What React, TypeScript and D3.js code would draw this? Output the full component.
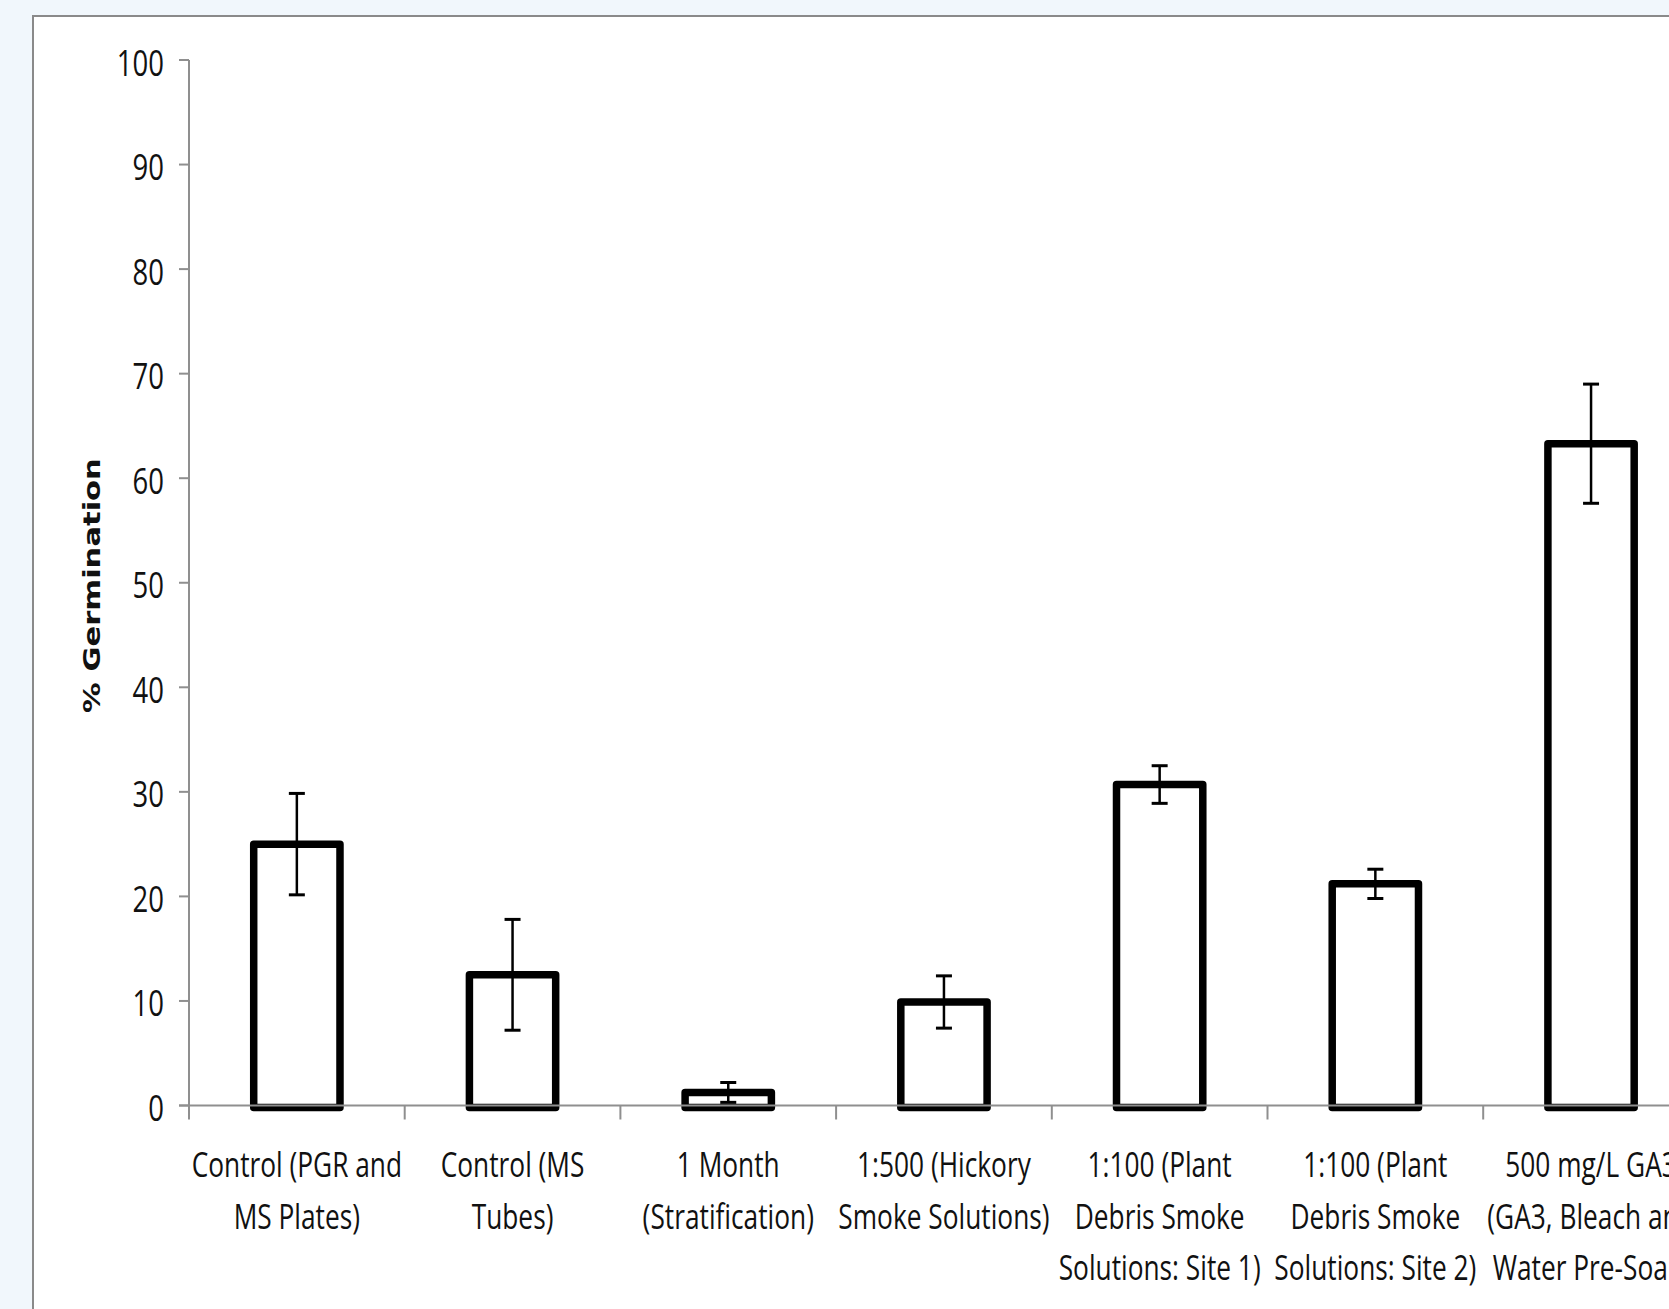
import React, { useEffect, useRef } from 'react';
import * as d3 from 'd3';

// Treatments on the x axis (label lines as they wrap in the chart)
const categories = ['c1', 'c2', 'c3', 'c4', 'c5', 'c6', 'c7'];
const labelLines = [
  ['Control (PGR and', 'MS Plates)'],
  ['Control (MS', 'Tubes)'],
  ['1 Month', '(Stratification)'],
  ['1:500 (Hickory', 'Smoke Solutions)'],
  ['1:100 (Plant', 'Debris Smoke', 'Solutions: Site 1)'],
  ['1:100 (Plant', 'Debris Smoke', 'Solutions: Site 2)'],
  ['500 mg/L GA3', '(GA3, Bleach and', 'Water Pre-Soak)'],
];
const germination = [25.0, 12.5, 1.25, 9.9, 30.7, 21.2, 63.3];
const errors = [4.85, 5.3, 0.95, 2.5, 1.8, 1.4, 5.7];
const yTicks = [0, 10, 20, 30, 40, 50, 60, 70, 80, 90, 100];

const W = 1669;
const H = 1309;

function App() {
  const ref = useRef<SVGSVGElement>(null);

  useEffect(() => {
    document.body.style.margin = '0';
    const svg = d3.select(ref.current);
    svg.selectAll('*').remove();

    const textColor = '#111';
    const axisColor = '#8f8f8f';
    const stretch = 1.32; // text in the picture is drawn tall and narrow

    // page background and chart frame
    svg.append('rect').attr('width', W).attr('height', H).attr('fill', '#f1f7fc');
    svg.append('rect')
      .attr('x', 33).attr('y', 16)
      .attr('width', W).attr('height', H)
      .attr('fill', '#fff')
      .attr('stroke', '#8a8a8a')
      .attr('stroke-width', 2);

    const x0 = 189;
    const step = 215.7;
    const x = d3.scaleBand()
      .domain(categories)
      .range([x0, x0 + step * categories.length]);

    const y = d3.scaleLinear().domain([0, 100]).range([1105.5, 60]);

    // y axis
    const gy = svg.append('g');
    gy.append('line')
      .attr('x1', x0).attr('x2', x0)
      .attr('y1', y(100)).attr('y2', y(0))
      .attr('stroke', axisColor).attr('stroke-width', 2);
    yTicks.forEach(t => {
      gy.append('line')
        .attr('x1', x0 - 10).attr('x2', x0)
        .attr('y1', y(t)).attr('y2', y(t))
        .attr('stroke', axisColor).attr('stroke-width', 2);
      gy.append('text')
        .attr('transform', `translate(164,${y(t) + 15.5}) scale(1,${stretch})`)
        .attr('text-anchor', 'end')
        .style('font-family', '"Open Sans", sans-serif')
        .style('font-size', '27.5px')
        .style('fill', textColor)
        .text(t);
    });

    // y axis title
    svg.append('text')
      .attr('transform', 'translate(100,585.5) scale(1,1.33) rotate(-90)')
      .attr('text-anchor', 'middle')
      .style('font-family', '"DejaVu Sans", sans-serif')
      .style('font-weight', 'bold')
      .style('font-size', '23px')
      .style('fill', textColor)
      .text('% Germination');

    // bars
    const barW = x.bandwidth() * 0.4;
    svg.selectAll('.bar')
      .data(categories)
      .join('rect')
      .attr('class', 'bar')
      .attr('x', d => x(d)! + (x.bandwidth() - barW) / 2)
      .attr('y', (d, i) => y(germination[i]))
      .attr('width', barW)
      .attr('height', (d, i) => y(0) + 2 - y(germination[i]))
      .attr('fill', '#fff')
      .attr('stroke', '#000')
      .attr('stroke-width', 7.5)
      .attr('stroke-linejoin', 'round');

    // x axis (drawn over bar bottoms)
    const gx = svg.append('g');
    gx.append('line')
      .attr('x1', x0 - 10).attr('x2', W)
      .attr('y1', y(0)).attr('y2', y(0))
      .attr('stroke', axisColor).attr('stroke-width', 2);
    d3.range(categories.length + 1).forEach(i => {
      const tx = x0 + i * step;
      gx.append('line')
        .attr('x1', tx).attr('x2', tx)
        .attr('y1', y(0)).attr('y2', y(0) + 14)
        .attr('stroke', axisColor).attr('stroke-width', 2);
    });

    // error bars
    const eb = svg.append('g').attr('stroke', '#000');
    categories.forEach((c, i) => {
      const cx = x(c)! + x.bandwidth() / 2;
      const hi = y(germination[i] + errors[i]);
      const lo = y(germination[i] - errors[i]);
      eb.append('line').attr('x1', cx).attr('x2', cx).attr('y1', hi).attr('y2', lo).attr('stroke-width', 2.5);
      [hi, lo].forEach(v => {
        eb.append('line').attr('x1', cx - 8).attr('x2', cx + 8).attr('y1', v).attr('y2', v).attr('stroke-width', 3);
      });
    });

    // category labels
    categories.forEach((c, i) => {
      const cx = x(c)! + x.bandwidth() / 2;
      labelLines[i].forEach((line, j) => {
        svg.append('text')
          .attr('transform', `translate(${cx},${y(0) + 71.5 + j * 51.5}) scale(1,${stretch})`)
          .attr('text-anchor', 'middle')
          .style('font-family', '"Open Sans", sans-serif')
          .style('font-size', '26.3px')
          .style('fill', textColor)
          .text(line);
      });
    });
  }, []);

  return <svg ref={ref} width={W} height={H} style={{ display: 'block' }} />;
}

export default App;
